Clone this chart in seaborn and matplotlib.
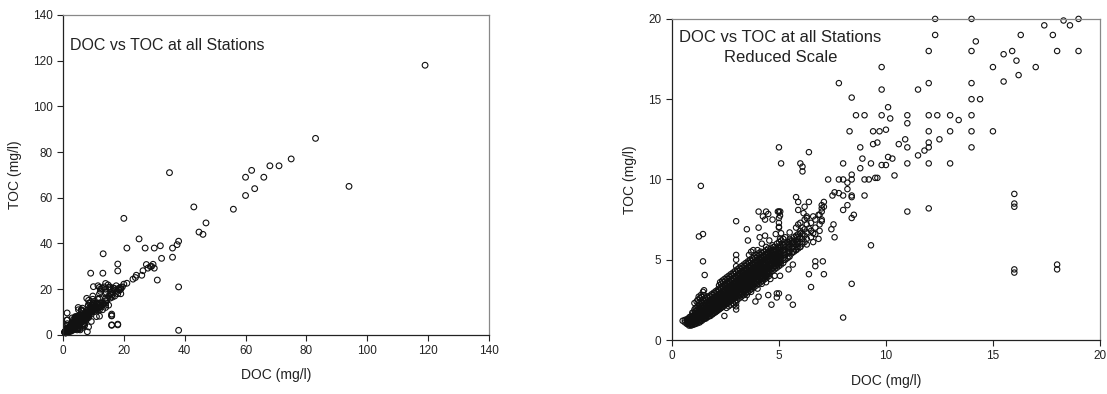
import numpy as np
import matplotlib
matplotlib.use('Agg')
import matplotlib.pyplot as plt
import seaborn as sns

#-------------------------------------------------------
# dense low-range cluster, read column by column (DOC -> list of TOC)
cluster_cols = {
0.5: [1.2],
0.6: [1.1, 1.25],
0.7: [1.0, 1.2, 1.3],
0.8: [0.9, 1.05, 1.2, 1.4],
0.9: [0.9, 1.0, 1.15, 1.3, 1.45],
1.0: [0.95, 1.1, 1.2, 1.35, 1.5, 1.7],
1.1: [1.0, 1.15, 1.3, 1.45, 1.6, 1.8, 2.0],
1.2: [1.05, 1.2, 1.35, 1.5, 1.65, 1.85, 2.1, 2.5],
1.3: [1.1, 1.25, 1.4, 1.55, 1.7, 1.9, 2.2, 2.6],
1.4: [1.2, 1.35, 1.5, 1.65, 1.8, 2.0, 2.3, 2.7],
1.5: [1.3, 1.45, 1.6, 1.75, 1.9, 2.1, 2.4, 2.8, 3.1],
1.6: [1.35, 1.5, 1.7, 1.85, 2.0, 2.2, 2.5],
1.7: [1.45, 1.6, 1.8, 1.95, 2.1, 2.3, 2.6],
1.8: [1.5, 1.7, 1.9, 2.05, 2.2, 2.4, 2.7],
1.9: [1.6, 1.8, 2.0, 2.15, 2.3, 2.5, 2.8],
2.0: [1.7, 1.9, 2.1, 2.25, 2.4, 2.6, 2.9],
2.1: [1.8, 2.0, 2.2, 2.35, 2.5, 2.7, 3.0],
2.2: [1.9, 2.1, 2.3, 2.45, 2.6, 2.8, 3.1, 3.4],
2.3: [2.0, 2.2, 2.4, 2.55, 2.7, 2.9, 3.2, 3.5],
2.4: [2.1, 2.3, 2.5, 2.65, 2.8, 3.0, 3.3, 3.6],
2.5: [2.2, 2.4, 2.6, 2.75, 2.9, 3.1, 3.4, 3.7],
2.6: [2.3, 2.5, 2.7, 2.85, 3.0, 3.2, 3.5, 3.8],
2.7: [2.4, 2.6, 2.8, 2.95, 3.1, 3.3, 3.6, 3.9],
2.8: [2.5, 2.7, 2.9, 3.05, 3.2, 3.4, 3.7, 4.0],
2.9: [2.2, 2.6, 2.8, 3.0, 3.15, 3.3, 3.5, 3.8, 4.1],
3.0: [1.9, 2.3, 2.7, 2.9, 3.1, 3.25, 3.4, 3.6, 3.9, 4.2, 4.6, 5.0, 5.3],
3.1: [2.7, 2.9, 3.1, 3.3, 3.45, 3.6, 3.8, 4.0, 4.3],
3.2: [2.8, 3.0, 3.2, 3.4, 3.55, 3.7, 3.9, 4.1, 4.4],
3.3: [2.9, 3.1, 3.3, 3.5, 3.65, 3.8, 4.0, 4.2, 4.5],
3.4: [2.6, 3.0, 3.2, 3.4, 3.6, 3.75, 3.9, 4.1, 4.3, 4.6],
3.5: [2.8, 3.1, 3.3, 3.5, 3.7, 3.85, 4.0, 4.2, 4.4, 4.7],
3.6: [3.2, 3.4, 3.6, 3.8, 3.95, 4.1, 4.3, 4.5, 4.8, 5.3],
3.7: [3.0, 3.3, 3.5, 3.7, 3.9, 4.05, 4.2, 4.4, 4.6, 4.9, 5.5],
3.8: [3.4, 3.6, 3.8, 4.0, 4.15, 4.3, 4.5, 4.7, 5.0],
3.9: [3.5, 3.7, 3.9, 4.1, 4.25, 4.4, 4.6, 4.8, 5.1],
4.0: [3.2, 3.6, 3.8, 4.0, 4.2, 4.35, 4.5, 4.7, 4.9, 5.2, 5.6],
4.1: [3.7, 3.9, 4.1, 4.3, 4.5, 4.8, 5.0, 5.3],
4.2: [3.5, 3.8, 4.0, 4.2, 4.4, 4.6, 4.9, 5.1, 5.4, 6.0],
4.3: [3.9, 4.1, 4.3, 4.5, 4.7, 5.0, 5.2, 5.5],
4.4: [3.6, 4.0, 4.2, 4.4, 4.6, 4.8, 5.1, 5.3, 5.6],
4.5: [4.1, 4.3, 4.5, 4.7, 4.9, 5.2, 5.4, 5.7],
4.6: [3.8, 4.2, 4.4, 4.6, 4.8, 5.0, 5.3, 5.5],
4.7: [4.3, 4.5, 4.7, 4.9, 5.1, 5.4, 5.6, 5.9],
4.8: [4.0, 4.4, 4.6, 4.8, 5.0, 5.2, 5.5, 5.8],
4.9: [4.5, 4.7, 4.9, 5.1, 5.3, 5.6, 6.0],
5.0: [4.6, 4.8, 5.0, 5.2, 5.4, 5.7, 6.1, 7.0, 7.6, 8.0],
5.1: [4.7, 5.0, 5.3, 5.5, 5.8, 6.2],
5.2: [4.8, 5.1, 5.4, 5.6, 5.9, 6.3],
5.3: [5.0, 5.3, 5.5, 5.8, 6.0, 6.4],
5.4: [5.1, 5.4, 5.7, 5.9, 6.1],
5.5: [5.2, 5.5, 5.8, 6.0, 6.3, 6.7],
5.6: [5.4, 5.7, 6.0, 6.2],
5.7: [5.5, 5.8, 6.1, 6.4],
5.8: [5.6, 5.9, 6.2, 6.5, 7.0],
5.9: [5.7, 6.0, 6.3, 6.6, 7.2],
6.0: [5.8, 6.1, 6.4, 6.8, 7.3],
6.1: [6.0, 6.3, 6.6, 7.0],
6.2: [6.1, 6.5, 6.9, 7.5],
6.3: [6.3, 6.7, 7.2, 7.7],
6.5: [6.4, 6.8, 7.3],
6.7: [6.6, 7.0, 7.5],
6.9: [6.8, 7.2, 7.8],
7.0: [7.5, 8.0, 8.4],
}

# second pass over the same cluster, between the columns above
cluster_cols2 = {
0.75: [1.0, 1.15, 1.3],
0.85: [0.95, 1.1, 1.25, 1.45],
0.95: [1.0, 1.15, 1.3, 1.5, 1.7],
1.05: [1.0, 1.2, 1.4, 1.6, 1.9, 2.3],
1.15: [1.1, 1.3, 1.5, 1.7, 2.0, 2.4],
1.25: [1.15, 1.35, 1.55, 1.8, 2.0, 2.3, 2.7],
1.35: [1.2, 1.4, 1.6, 1.85, 2.1, 2.4, 2.8],
1.45: [1.3, 1.5, 1.7, 1.95, 2.2, 2.5, 3.0],
1.55: [1.35, 1.55, 1.8, 2.0, 2.3, 2.6],
1.65: [1.45, 1.65, 1.9, 2.1, 2.4, 2.7],
1.75: [1.5, 1.7, 1.95, 2.2, 2.45, 2.75],
1.85: [1.6, 1.8, 2.05, 2.3, 2.55, 2.85],
1.95: [1.7, 1.9, 2.15, 2.4, 2.65, 2.95],
2.05: [1.75, 2.0, 2.25, 2.5, 2.75, 3.05],
2.15: [1.85, 2.1, 2.35, 2.6, 2.85, 3.15],
2.25: [1.95, 2.2, 2.45, 2.7, 2.95, 3.25, 3.6],
2.35: [2.05, 2.3, 2.55, 2.8, 3.05, 3.35, 3.7],
2.45: [2.15, 2.4, 2.65, 2.9, 3.15, 3.45, 3.8],
2.55: [2.0, 2.25, 2.5, 2.75, 3.0, 3.25, 3.55, 3.9],
2.65: [2.1, 2.35, 2.6, 2.85, 3.1, 3.35, 3.65, 4.0],
2.75: [2.2, 2.45, 2.7, 2.95, 3.2, 3.45, 3.75, 4.1],
2.85: [2.3, 2.55, 2.8, 3.05, 3.3, 3.55, 3.85, 4.2],
2.95: [2.4, 2.65, 2.9, 3.15, 3.4, 3.65, 3.95, 4.3],
3.05: [2.5, 2.75, 3.0, 3.25, 3.5, 3.75, 4.05, 4.4],
3.15: [2.6, 2.85, 3.1, 3.35, 3.6, 3.85, 4.15, 4.5],
3.25: [2.7, 2.95, 3.2, 3.45, 3.7, 3.95, 4.25, 4.6],
3.35: [2.8, 3.05, 3.3, 3.55, 3.8, 4.05, 4.35, 4.7],
3.45: [2.9, 3.15, 3.4, 3.65, 3.9, 4.15, 4.45, 4.8],
3.55: [3.0, 3.25, 3.5, 3.75, 4.0, 4.25, 4.55, 4.9],
3.65: [3.1, 3.35, 3.6, 3.85, 4.1, 4.35, 4.65, 5.0],
3.75: [3.2, 3.45, 3.7, 3.95, 4.2, 4.45, 4.75, 5.1],
3.85: [3.3, 3.55, 3.8, 4.05, 4.3, 4.55, 4.85, 5.2],
3.95: [3.4, 3.65, 3.9, 4.15, 4.4, 4.65, 4.95, 5.3],
4.05: [3.5, 3.75, 4.0, 4.25, 4.5, 4.75, 5.05, 5.4],
4.15: [3.6, 3.85, 4.1, 4.35, 4.6, 4.85, 5.15, 5.5],
4.25: [3.7, 3.95, 4.2, 4.45, 4.7, 4.95, 5.25],
4.35: [3.8, 4.05, 4.3, 4.55, 4.8, 5.05, 5.35],
4.45: [3.9, 4.15, 4.4, 4.65, 4.9, 5.15, 5.45],
4.55: [4.0, 4.25, 4.5, 4.75, 5.0, 5.25, 5.55],
4.65: [4.4, 4.65, 4.9, 5.15, 5.4, 5.7],
4.75: [4.5, 4.75, 5.0, 5.25, 5.5, 5.8],
4.85: [4.6, 4.85, 5.1, 5.35, 5.6],
4.95: [4.7, 4.95, 5.2, 5.45, 5.75],
5.05: [4.8, 5.1, 5.35, 5.6, 5.9],
5.25: [5.0, 5.3, 5.6, 5.9],
5.45: [5.2, 5.5, 5.8, 6.1],
5.65: [5.5, 5.8, 6.1],
5.85: [5.8, 6.1, 6.4],
}

# scattered points, 0-20 range
mid_doc = [12.3, 14.0, 19.0, 18.3, 17.4, 18.6, 12.3, 17.8, 16.3, 14.2, 12.0, 14.0, 15.5, 15.9, 18.0, 19.0,
           16.1, 9.8, 15.0, 17.0, 16.2, 15.5, 7.8, 12.0, 14.0, 9.8, 11.5, 8.4, 14.0, 14.4, 10.1, 8.6,
           9.0, 9.8, 10.2, 11.0, 11.0, 12.0, 12.4, 13.0, 13.4, 14.0, 8.3, 9.4, 9.7, 10.0, 12.0, 13.0,
           14.0, 15.0, 9.6, 9.4, 10.9, 10.6, 12.5, 12.0, 11.0, 12.0, 14.0, 11.8, 11.5, 10.1, 10.3, 8.8,
           5.0, 6.4, 5.1, 6.0, 6.1, 6.1, 8.0, 8.9, 9.3, 9.8, 10.0, 11.0, 12.0, 13.0, 8.8, 10.4,
           8.4, 7.3, 7.8, 8.0, 8.2, 8.4, 9.0, 9.2, 9.5, 9.6, 8.2, 7.5, 7.6, 7.8, 8.0, 8.4,
           8.4, 9.0, 11.0, 12.0, 8.2, 8.0, 8.5, 8.4, 16.0, 16.0, 16.0, 18.0, 9.3, 8.4, 8.0, 1.35,
           1.26, 1.45, 1.45, 1.53, 3.0, 5.06,
           5.8, 5.9, 6.4, 6.2, 5.9, 7.1, 7.1, 7.0, 6.85, 6.6, 6.3, 6.15, 7.0, 7.45, 7.55, 7.6,
           6.85, 6.6, 6.4, 6.6, 5.8, 6.0, 6.3, 6.7, 7.05, 6.7, 7.1, 6.4, 6.5, 5.65, 5.45, 5.05,
           5.0, 4.9, 4.9, 4.5, 4.65, 5.45, 5.65, 2.45, 3.9, 4.05, 3.0,
           4.05, 4.4, 4.25, 4.5, 4.35, 4.7, 4.95, 5.05, 5.0, 5.0, 4.05, 3.5, 3.55, 4.1, 4.35, 4.85,
           4.55, 4.4, 3.8, 5.05, 5.1, 5.5, 6.0]
mid_toc = [20.0, 20.0, 20.0, 19.9, 19.6, 19.6, 19.0, 19.0, 19.0, 18.6, 18.0, 18.0, 17.8, 18.0, 18.0, 18.0,
           17.4, 17.0, 17.0, 17.0, 16.5, 16.1, 16.0, 16.0, 16.0, 15.6, 15.6, 15.1, 15.0, 15.0, 14.5, 14.0,
           14.0, 14.0, 13.8, 14.0, 13.5, 14.0, 14.0, 14.0, 13.7, 14.0, 13.0, 13.0, 13.0, 13.1, 13.0, 13.0,
           13.0, 13.0, 12.3, 12.2, 12.5, 12.2, 12.5, 12.3, 12.0, 12.0, 12.0, 11.8, 11.5, 11.4, 11.3, 12.0,
           12.0, 11.7, 11.0, 11.0, 10.8, 10.5, 11.0, 11.3, 11.0, 10.9, 10.9, 11.0, 11.0, 11.0, 10.7, 10.25,
           10.3, 10.0, 10.0, 10.0, 9.8, 10.0, 10.0, 10.0, 10.1, 10.1, 9.4, 9.0, 9.2, 9.15, 9.0, 9.0,
           8.9, 9.0, 8.0, 8.2, 8.4, 8.1, 7.8, 7.6, 9.1, 8.3, 4.2, 4.4, 5.9, 3.5, 1.4, 9.6,
           6.45, 6.6, 4.9, 4.05, 7.4, 8.0,
           8.9, 8.6, 8.6, 8.3, 8.1, 8.6, 8.3, 8.2, 7.8, 7.7, 7.6, 7.9, 7.4, 6.9, 7.2, 6.4,
           6.3, 6.65, 6.95, 6.1, 5.6, 5.8, 5.95, 4.9, 4.9, 4.6, 4.1, 4.1, 3.3, 4.7, 4.4, 4.0,
           2.9, 2.9, 2.65, 2.8, 2.2, 2.65, 2.2, 1.5, 2.4, 2.7, 2.1,
           8.0, 8.0, 7.7, 7.85, 7.5, 7.5, 8.0, 7.75, 7.3, 7.05, 7.0, 6.9, 6.2, 6.4, 6.5, 6.6,
           6.2, 5.8, 5.6, 6.3, 6.65, 6.2, 6.65]

# points outside the reduced scale
high_doc = [119.0, 83.0, 75.0, 71.0, 68.0, 62.0, 60.0, 66.0, 63.0, 60.0, 94.0, 35.0, 56.0, 43.0, 47.0, 44.7,
            46.0, 20.0, 25.0, 21.0, 27.0, 30.0, 32.0, 36.0, 37.5, 38.0, 13.2, 36.0, 32.4, 18.0, 18.0, 13.1,
            9.1, 31.0, 38.0, 38.0, 27.4, 29.1, 29.6, 28.7, 30.0, 27.9, 26.3, 25.9, 24.1, 23.8, 23.0, 21.0,
            20.0, 19.0, 10.0, 14.8, 15.5, 16.5, 17.5, 12.8, 11.5, 18.5, 15.0, 13.5, 16.0, 16.0, 18.0, 19.5,
            17.0, 14.0, 12.0, 15.5]
high_toc = [118.0, 86.0, 77.0, 74.0, 74.0, 72.0, 69.0, 69.0, 64.0, 61.0, 65.0, 71.0, 55.0, 56.0, 49.0, 45.0,
            44.0, 51.0, 42.0, 38.0, 38.0, 38.0, 39.0, 38.0, 39.5, 41.0, 35.5, 34.0, 33.5, 31.0, 28.0, 27.0,
            27.0, 24.0, 21.0, 2.0, 30.8, 30.0, 30.9, 29.9, 29.2, 29.2, 28.1, 26.1, 26.1, 25.1, 24.4, 22.6,
            22.2, 20.9, 21.1, 21.9, 21.0, 20.5, 21.5, 20.5, 21.5, 20.5, 20.8, 21.0, 4.4, 8.5, 4.7, 21.0,
            20.3, 22.5, 20.8, 20.2]

#-------------------------------------------------------
l_cols = list(cluster_cols.items()) + list(cluster_cols2.items())
c_doc = [d for d, l in l_cols for _ in l]
c_toc = [t for _, l in l_cols for t in l]
doc = np.array(c_doc + mid_doc + high_doc)
toc = np.array(c_toc + mid_toc + high_toc)

sns.set_style('ticks')
plt.rcParams['font.family'] = ['Liberation Sans', 'DejaVu Sans']

fig = plt.figure(figsize=(11.07, 3.94), dpi=100)
ax1 = fig.add_axes([0.0569, 0.150, 0.3848, 0.812])
ax2 = fig.add_axes([0.607, 0.137, 0.3866, 0.815])

mk = dict(marker='o', facecolor='none', edgecolor='#111111', linewidth=0.8, clip_on=False, legend=False)


def style_ax(ax, lim, ticks):
	ax.set_xlim(0, lim)
	ax.set_ylim(0, lim)
	ax.set_xticks(ticks)
	ax.set_yticks(ticks)
	ax.tick_params(direction='out', length=4, width=0.8, labelsize=8.5, colors='#222222')
	for s in ['left', 'bottom']:
		ax.spines[s].set_color('#222222')
		ax.spines[s].set_linewidth(0.9)
	for s in ['top', 'right']:
		ax.spines[s].set_visible(True)
		ax.spines[s].set_color('#888888')
		ax.spines[s].set_linewidth(0.9)
	ax.set_xlabel('DOC (mg/l)', fontsize=10, color='#222222', labelpad=8)
	ax.set_ylabel('TOC (mg/l)', fontsize=10, color='#222222', labelpad=8)
	return


#left: full scale
sns.scatterplot(x=doc, y=toc, ax=ax1, s=17, **mk)
style_ax(ax1, 140, range(0, 141, 20))
ax1.text(0.016, 0.906, 'DOC vs TOC at all Stations', transform=ax1.transAxes,
	fontsize=11.5, va='center', ha='left', color='#222222')

#right: reduced scale
sel = (doc <= 20) & (toc <= 20)
sns.scatterplot(x=doc[sel], y=toc[sel], ax=ax2, s=15, **mk)
style_ax(ax2, 20, range(0, 21, 5))
ax2.text(0.2535, 0.942, 'DOC vs TOC at all Stations', transform=ax2.transAxes,
	fontsize=12, va='center', ha='center', color='#222222')
ax2.text(0.2535, 0.880, 'Reduced Scale', transform=ax2.transAxes,
	fontsize=12, va='center', ha='center', color='#222222')

plt.savefig('out.png', dpi=100)
plt.close()
